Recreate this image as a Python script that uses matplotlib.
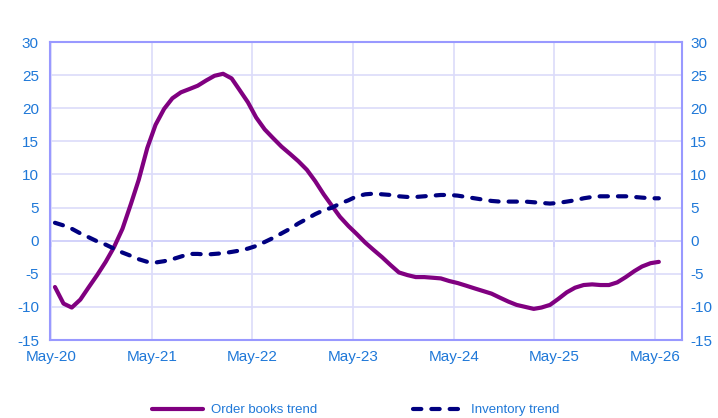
import numpy as np
import pandas as pd
import matplotlib
matplotlib.use("Agg")
import matplotlib.pyplot as plt

# monthly trend values, May-20 .. May-26
order_books = [-7.0, -9.5, -10.1, -8.9, -7.0, -5.2, -3.2, -1.0, 1.8, 5.6,
               9.2, 14.0, 17.5, 19.9, 21.5, 22.4, 22.9, 23.4, 24.2, 24.9,
               25.2, 24.5, 22.8, 20.9, 18.6, 16.8, 15.5, 14.2, 13.1, 12.0,
               10.7, 9.0, 7.0, 5.2, 3.6, 2.2, 1.0, -0.3, -1.4, -2.5,
               -3.7, -4.8, -5.2, -5.5, -5.5, -5.6, -5.7, -6.1, -6.4, -6.8,
               -7.2, -7.6, -8.0, -8.6, -9.2, -9.7, -10.0, -10.3, -10.1, -9.7,
               -8.8, -7.8, -7.1, -6.7, -6.6, -6.7, -6.7, -6.3, -5.5, -4.6,
               -3.9, -3.4, -3.2]
inventory = [2.7, 2.3, 1.8, 1.1, 0.5, -0.1, -0.6, -1.2, -1.8, -2.3,
             -2.8, -3.2, -3.3, -3.1, -2.8, -2.4, -2.0, -2.0, -2.1, -2.0,
             -1.9, -1.7, -1.5, -1.2, -0.8, -0.2, 0.4, 1.1, 1.8, 2.6,
             3.3, 4.0, 4.6, 5.0, 5.6, 6.1, 6.7, 7.0, 7.1, 7.0,
             6.9, 6.7, 6.6, 6.6, 6.7, 6.8, 6.9, 6.9, 6.8, 6.6,
             6.4, 6.2, 6.0, 5.9, 5.9, 5.9, 5.9, 5.8, 5.7, 5.6,
             5.7, 5.9, 6.1, 6.4, 6.6, 6.7, 6.7, 6.7, 6.7, 6.6,
             6.5, 6.4, 6.4]

months = pd.date_range("2020-05-01", periods=len(order_books), freq="MS") + pd.Timedelta(days=14)
tick_dates = pd.date_range("2020-05-01", "2026-05-01", freq="12MS")
tick_labels = [d.strftime("%b-%y") for d in tick_dates]
y_ticks = np.arange(-15, 31, 5)

plt.rcParams["font.family"] = ["Liberation Sans", "DejaVu Sans"]
plt.rcParams["axes.unicode_minus"] = False
label_col = "#1F78D8"
spine_col = "#9999FF"
grid_col = "#DCDCFA"

fig = plt.figure(figsize=(7.18, 4.18), dpi=100)
ax = fig.add_axes([50 / 718, 78 / 418, 632 / 718, 298 / 418])

ax.plot(months, order_books, color="#800080", lw=3.0, solid_capstyle="round",
        label="Order books trend", zorder=3)
ax.plot(months, inventory, color="#000080", lw=3.0, dashes=(2, 2.4),
        dash_capstyle="round", label="Inventory trend", zorder=3)

ax.set_xlim(pd.Timestamp("2020-04-27"), pd.Timestamp("2026-08-07"))
ax.set_ylim(-15, 30)
ax.set_xticks(tick_dates)
ax.set_xticklabels(tick_labels)
ax.set_yticks(y_ticks)
ax.grid(True, color=grid_col, lw=1.2, zorder=0)
ax.axhline(0, color=spine_col, lw=1.2, zorder=1)

for s in ax.spines.values():
    s.set_color(spine_col)
    s.set_linewidth(1.5)

ax.tick_params(axis="y", length=0, labelsize=11, labelcolor=label_col, pad=8)
ax.tick_params(axis="x", length=0, labelsize=11, labelcolor=label_col, pad=7)

ax2 = ax.twinx()
ax2.set_ylim(-15, 30)
ax2.set_yticks(y_ticks)
ax2.tick_params(axis="y", length=0, labelsize=11, labelcolor=label_col, pad=6)
for s in ax2.spines.values():
    s.set_visible(False)

# tick marks along the zero line
zero_axis = ax.secondary_xaxis(15 / 45)
zero_axis.set_xticks(tick_dates)
zero_axis.set_xticklabels([])
zero_axis.tick_params(length=4, color=spine_col, direction="out", width=1.2)
zero_axis.spines["bottom"].set_visible(False)

handles, labels = ax.get_legend_handles_labels()
fig.legend(handles, labels, loc="center", bbox_to_anchor=(356 / 718, 8 / 418),
           ncol=2, frameon=False, fontsize=9.5, labelcolor=label_col,
           handlelength=3.8, columnspacing=7.3, handletextpad=0.6)

fig.savefig("out.png", dpi=100)
